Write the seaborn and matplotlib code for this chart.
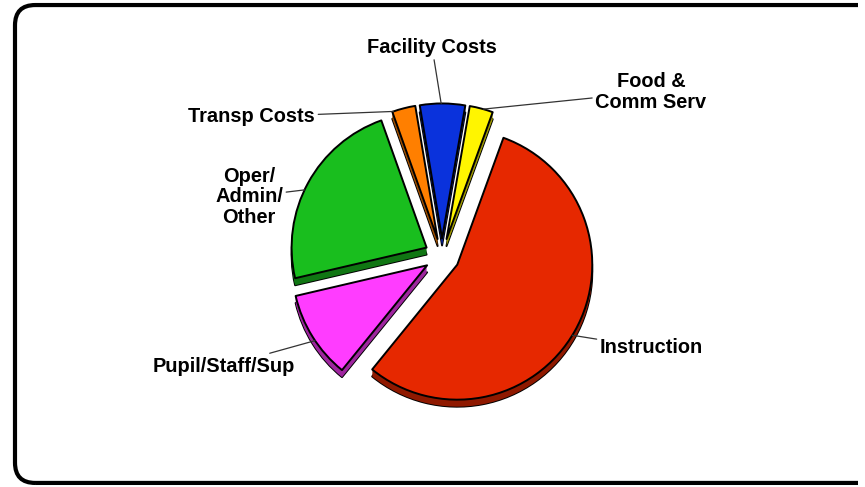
import numpy as np
import seaborn as sns
import matplotlib.pyplot as plt
import matplotlib.colors as mcolors
from matplotlib.patches import FancyBboxPatch, Rectangle

# Data (clockwise from the top right)
categories = ["Instruction", "Pupil/Staff/Sup", "Oper/\nAdmin/\nOther",
              "Transp Costs", "Facility Costs", "Food &\nComm Serv"]
shares = [55.3, 10.5, 23.2, 2.8, 5.4, 2.8]
slice_colors = ["#E62800", "#FF3CFF", "#19BE1E", "#FF7F00", "#0A32DC", "#FFF500"]

sns.set_style("white")
plt.rcParams['font.family'] = ['Liberation Sans', 'DejaVu Sans']

palette = sns.color_palette(slice_colors)
shadow = [tuple(np.array(mcolors.to_rgb(c)) * 0.62) for c in palette]

fig = plt.figure(figsize=(8.65, 4.87), dpi=100)
ax = fig.add_axes([0, 0, 1, 1])

explode = [0.13] * len(shares)
depth = 0.052

# 3D-ish extrusion: darker copies drawn below the top face
ax.pie(shares, colors=shadow, explode=explode, startangle=70, counterclock=False,
       center=(0, -depth),
       wedgeprops=dict(edgecolor='black', linewidth=1.4, joinstyle='round'))
for d in np.linspace(depth, 0.004, 8):
    ax.pie(shares, colors=shadow, explode=explode, startangle=70, counterclock=False,
           center=(0, -d), wedgeprops=dict(edgecolor='none', linewidth=0))
wedges, _ = ax.pie(shares, colors=palette, explode=explode, startangle=70,
                   counterclock=False, center=(0, 0),
                   wedgeprops=dict(edgecolor='black', linewidth=1.4, joinstyle='round'))

# label layout
text_pos = [(1.170, -0.681), (-1.089, -0.815), (-1.430, 0.440),
            (-0.941, 1.030), (-0.074, 1.548), (1.548, 1.215)]
text_ha = ['left', 'right', 'center', 'right', 'center', 'center']
text_ls = [1.1, 1.1, 1.1, 1.1, 1.1, 1.15]
anchor_frac = [0.49, 0.55, 0.54, 0.95, 0.53, 0.42]

for w, lab, pos, ha, ls, f in zip(wedges, categories, text_pos, text_ha, text_ls, anchor_frac):
    ang = np.deg2rad(w.theta1 + f * (w.theta2 - w.theta1))
    cx, cy = w.center
    xy = (cx + w.r * np.cos(ang), cy + w.r * np.sin(ang))
    ax.annotate(lab, xy=xy, xytext=pos, ha=ha, va='center', multialignment='center',
                fontsize=14.4, fontweight='bold', color='black', linespacing=ls,
                arrowprops=dict(arrowstyle='-', color='#333333', lw=0.9,
                                shrinkA=0, shrinkB=0))

# rounded frame, right side runs off the picture
pad = 0.15
x0, x1, y0, y1 = -3.163, 3.5, -1.681, 1.859
frame = FancyBboxPatch((x0 + pad, y0 + pad), x1 - x0 - 2 * pad, y1 - y0 - 2 * pad,
                       boxstyle=f"round,pad={pad}", facecolor='none',
                       edgecolor='black', linewidth=3, clip_on=True, zorder=0)
ax.add_patch(frame)
clip = Rectangle((-4, -2), 4 + (858 - 442) / 135, 4, transform=ax.transData)
frame.set_clip_path(clip)

ax.set_xlim(-442 / 135, (865 - 442) / 135)
ax.set_ylim(-231 / 135, 256 / 135)
ax.set_aspect('equal', adjustable='datalim')
ax.axis('off')

plt.savefig('out.png', dpi=100)
